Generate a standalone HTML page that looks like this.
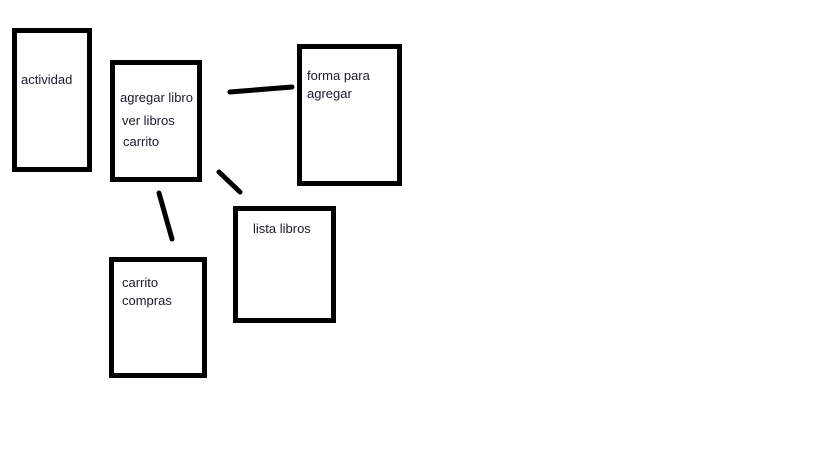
<!DOCTYPE html>
<html><head><meta charset="utf-8"><style>
html,body{margin:0;padding:0;background:#fff;width:819px;height:460px;overflow:hidden}
svg{display:block}
text{font-family:"Liberation Sans",sans-serif;font-size:13px;fill:#1a1a2a}
</style></head><body>
<svg width="819" height="460" xmlns="http://www.w3.org/2000/svg">
<g fill="none" stroke="#000" stroke-width="5">
<rect x="14.5" y="30.5" width="75" height="139"/>
<rect x="112.5" y="62.5" width="87" height="117"/>
<rect x="299.5" y="46.5" width="100" height="137"/>
<rect x="235.5" y="208.5" width="98" height="112"/>
<rect x="111.5" y="259.5" width="93" height="116"/>
</g>
<g stroke="#000" stroke-width="5" stroke-linecap="round">
<line x1="230" y1="92" x2="292" y2="87"/>
<line x1="219" y1="172" x2="240" y2="192"/>
<line x1="159" y1="193" x2="172" y2="239"/>
</g>
<text x="21" y="84">actividad</text>
<text x="120" y="102">agregar libro</text>
<text x="122" y="125">ver libros</text>
<text x="123" y="146">carrito</text>
<text x="307" y="80">forma para</text>
<text x="307" y="98">agregar</text>
<text x="253" y="233">lista libros</text>
<text x="122" y="287">carrito</text>
<text x="122" y="305">compras</text>
</svg>
</body></html>
